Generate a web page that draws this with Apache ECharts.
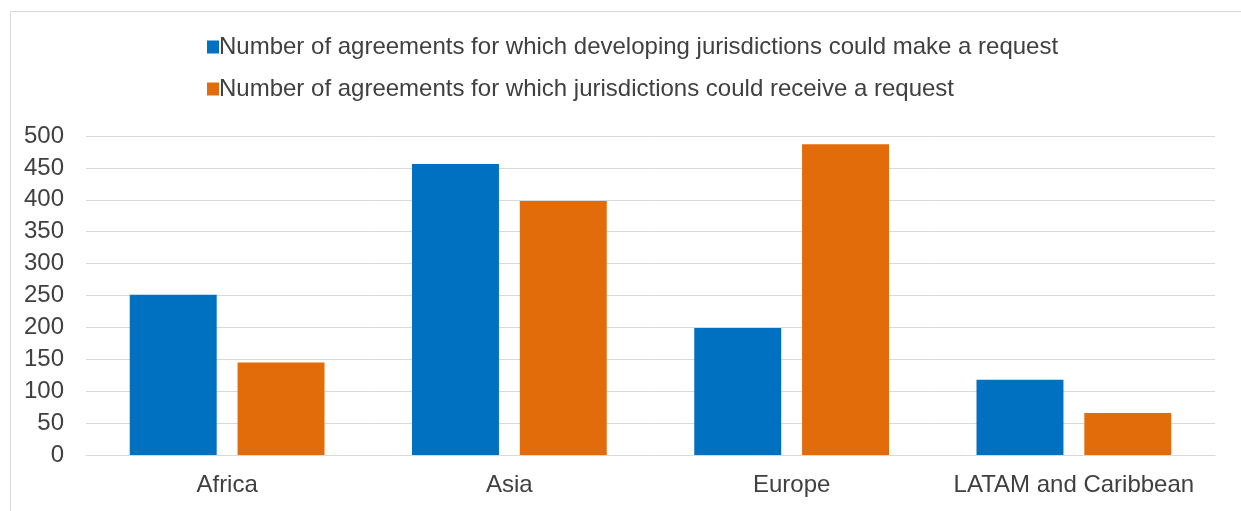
<!DOCTYPE html>
<html><head><meta charset="utf-8">
<script src="https://cdn.jsdelivr.net/npm/echarts@6/dist/echarts.min.js"></script>
<style>html,body{margin:0;padding:0;background:#fff}#c{width:1241px;height:511px}</style>
</head><body><div id="c"></div>
<script>
const categories = ["Africa", "Asia", "Europe", "LATAM and Caribbean"];
const seriesNames = ["Number of agreements for which developing jurisdictions could make a request",
                     "Number of agreements for which jurisdictions could receive a request"];
const makeRequest = [251, 456, 199, 118];
const receiveRequest = [145, 398, 487, 66];
const yTicks = [0, 500, 50];

const chart = echarts.init(document.getElementById('c'), null, {renderer: 'canvas'});
chart.setOption({
  animation: false,
  textStyle: {fontFamily: 'Liberation Sans, Arial, sans-serif'},
  graphic: [{type: 'rect', left: 8, top: 9, shape: {width: 1240, height: 510}, style: {fill: 'none', stroke: '#d9d9d9', lineWidth: 1}, silent: true}],
  legend: {
    orient: 'vertical', left: 202, top: 30, itemWidth: 12, itemHeight: 13, itemGap: 18,
    icon: 'rect',
    textStyle: {fontSize: 24, color: '#404040', padding: [0, 0, 0, -5]},
    data: seriesNames
  },
  grid: {left: 86, right: 26, top: 136, bottom: 56, containLabel: false},
  xAxis: {
    type: 'category', data: categories,
    axisLine: {show: true, lineStyle: {color: '#d9d9d9', width: 1}},
    axisTick: {show: false},
    axisLabel: {fontSize: 24, color: '#404040', margin: 18, interval: 0}
  },
  yAxis: {
    type: 'value', min: yTicks[0], max: yTicks[1], interval: yTicks[2],
    axisLine: {show: false}, axisTick: {show: false},
    splitLine: {lineStyle: {color: '#d9d9d9', width: 1}},
    axisLabel: {fontSize: 24, color: '#404040', margin: 22}
  },
  series: [
    {name: seriesNames[0], type: 'bar', data: makeRequest, barGap: '24%', barCategoryGap: '31%', itemStyle: {color: '#0070C0'}},
    {name: seriesNames[1], type: 'bar', data: receiveRequest, itemStyle: {color: '#E36C0A'}}
  ]
});
</script></body></html>
